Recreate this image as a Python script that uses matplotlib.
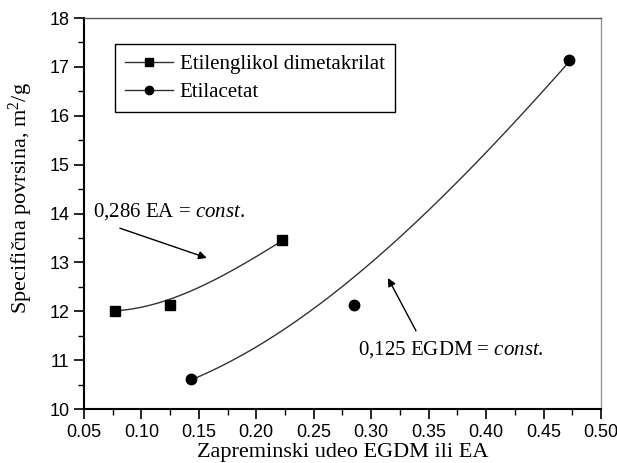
import matplotlib
matplotlib.use('Agg')
import matplotlib.pyplot as plt
from matplotlib.lines import Line2D
import numpy as np

# measured points
egdm_x = [0.077, 0.125, 0.222]
egdm_y = [12.00, 12.12, 13.45]
ea_x = [0.143, 0.285, 0.472]
ea_y = [10.62, 12.12, 17.15]

# points
egdm_fit_x = [0.077, 0.099, 0.125, 0.150, 0.163, 0.192, 0.222]
egdm_fit_y = [12.00, 12.10, 12.24, 12.47, 12.64, 13.02, 13.43]
ea_fit_x = [0.143, 0.1625, 0.1916, 0.2206, 0.2496, 0.2787, 0.3076, 0.325, 0.3366,
            0.3657, 0.3947, 0.4237, 0.4527, 0.472]
ea_fit_y = [10.62, 10.80, 11.10, 11.55, 12.06, 12.64, 13.15, 13.50, 13.76,
            14.45, 15.13, 15.81, 16.53, 17.15]

serif = 'Liberation Serif'
sans = 'Liberation Sans'
plt.rcParams['mathtext.fontset'] = 'custom'
plt.rcParams['mathtext.rm'] = serif
plt.rcParams['mathtext.it'] = serif + ':italic'

fig = plt.figure(figsize=(6.17, 4.63), dpi=100)
ax = fig.add_axes([0.136, 0.1166, 0.838, 0.8445])

# smooth fit curves
for fx, fy in [(egdm_fit_x, egdm_fit_y), (ea_fit_x, ea_fit_y)]:
    p = np.polyfit(fx, fy, 3)
    xs = np.linspace(fx[0], fx[-1], 200)
    ax.plot(xs, np.polyval(p, xs), color='#333333', lw=1.0)

ax.plot(egdm_x, egdm_y, 's', color='black', ms=7.5, zorder=3)
ax.plot(ea_x, ea_y, 'o', color='black', ms=7.5, zorder=3)

ax.set_xlim(0.05, 0.50)
ax.set_ylim(10, 18)
ax.set_xticks(np.arange(0.05, 0.501, 0.05))
ax.set_xticks(np.arange(0.075, 0.50, 0.05), minor=True)
ax.set_yticks(np.arange(10, 18.1, 1))
ax.set_yticks(np.arange(10.5, 18, 1), minor=True)
ax.xaxis.set_major_formatter(matplotlib.ticker.FormatStrFormatter('%.2f'))
ax.tick_params(which='major', direction='out', length=7, width=1.2,
               labelsize=13, top=False, right=False)
ax.tick_params(which='minor', direction='out', length=4, width=1.0,
               top=False, right=False)
for lab in ax.get_xticklabels() + ax.get_yticklabels():
    lab.set_fontfamily(sans)

ax.spines['left'].set_linewidth(1.5)
ax.spines['bottom'].set_linewidth(1.5)
ax.spines['top'].set_color('#555555')
ax.spines['top'].set_linewidth(1.0)
ax.spines['right'].set_color('#999999')
ax.spines['right'].set_linewidth(1.0)

ax.set_xlabel('Zapreminski udeo EGDM ili EA', fontsize=16, family=serif, labelpad=2)
ax.set_ylabel('Specifična povrsina, m$^2$/g', fontsize=16, family=serif)
ax.yaxis.set_label_coords(-0.095, 0.54)

handles = [Line2D([], [], color='#333333', lw=1.0, marker='s', ms=6, mfc='black', mec='black'),
           Line2D([], [], color='#333333', lw=1.0, marker='o', ms=6, mfc='black', mec='black')]
leg = ax.legend(handles, ['Etilenglikol dimetakrilat', 'Etilacetat'],
                loc='upper left', bbox_to_anchor=(115 / 617, 1 - 44 / 463),
                bbox_transform=fig.transFigure, borderaxespad=0,
                prop={'family': serif, 'size': 15}, handlelength=2.3,
                handletextpad=0.3, labelspacing=0.4, borderpad=0.5,
                fancybox=False, framealpha=1)
leg.get_frame().set_edgecolor('black')
leg.get_frame().set_linewidth(1.0)

ax.text(0.0578, 14.03, '0,286 EA = $\\it{const.}$', fontsize=15, family=serif,
        va='center', ha='left')
ax.annotate('', xy=(0.157, 13.09), xytext=(0.0813, 13.70),
            arrowprops=dict(arrowstyle='-|>', color='black', lw=1.0,
                            mutation_scale=12, shrinkA=0, shrinkB=0))
ax.text(0.2885, 11.21, '0,125 EGDM = $\\it{const.}$', fontsize=15, family=serif,
        va='center', ha='left')
ax.annotate('', xy=(0.3146, 12.68), xytext=(0.339, 11.60),
            arrowprops=dict(arrowstyle='-|>', color='black', lw=1.0,
                            mutation_scale=12, shrinkA=0, shrinkB=0))

plt.savefig('out.png', dpi=100)
